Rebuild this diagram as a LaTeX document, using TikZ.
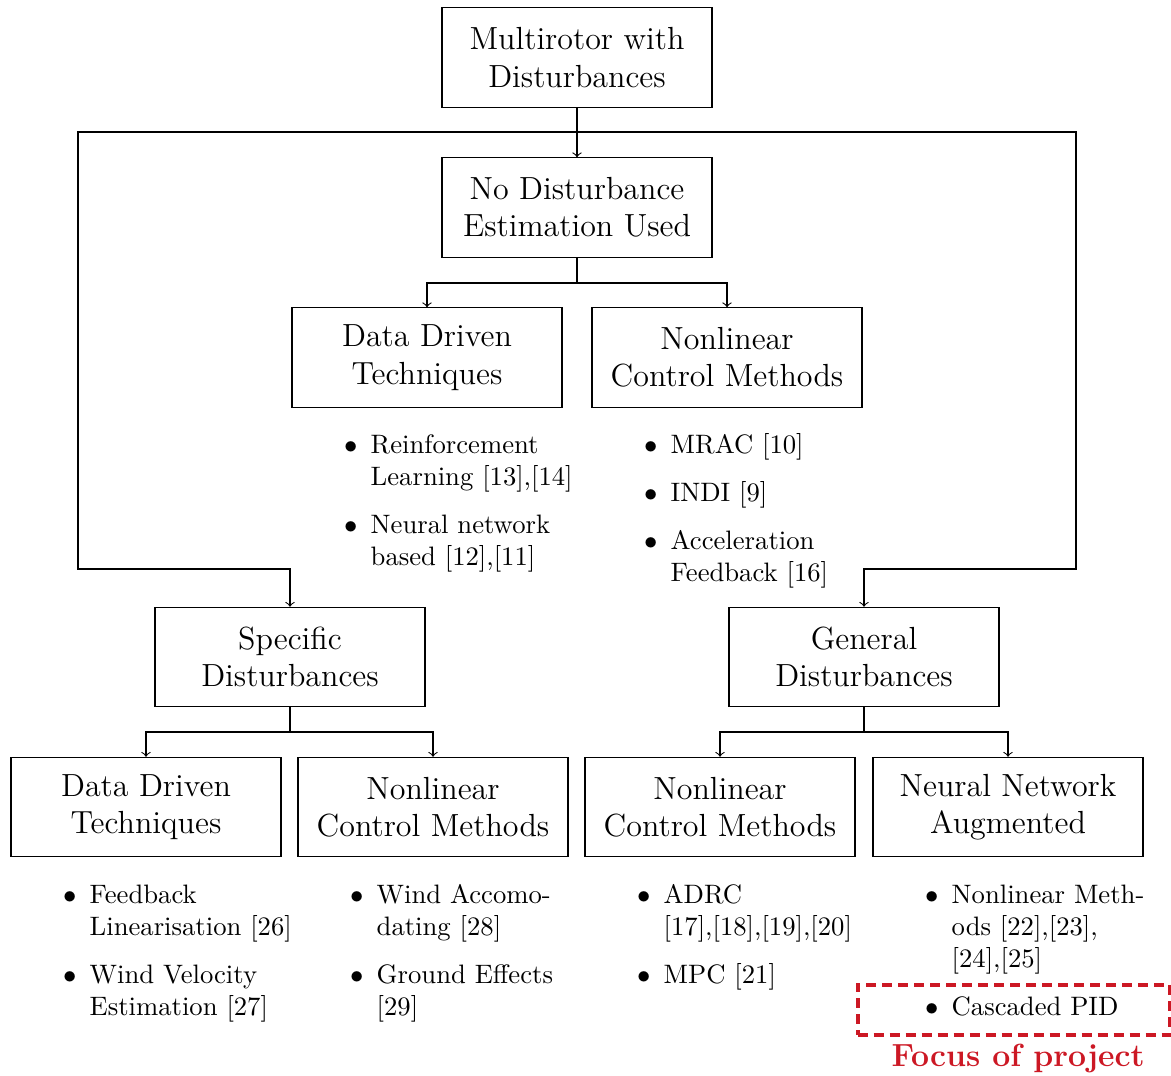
\documentclass[tikz,border=0pt]{standalone}
\usetikzlibrary{arrows}
\definecolor{focusred}{RGB}{204,24,36}
\newcommand{\blist}[1]{\begin{tabular}[t]{@{}c@{\hspace{5pt}}l@{}}#1\end{tabular}}
\newcommand{\bi}{$\bullet$}
\begin{document}
\begin{tikzpicture}[x=0.375pt,y=-0.375pt,
  box/.style={draw, minimum width=101.25pt, minimum height=37.3pt, inner sep=0pt,
    align=center, font=\large},
  items/.style={anchor=base west, inner sep=0pt},
  link/.style={->, >=to},
  every path/.style={line width=0.4pt}]
\useasboundingbox (0,0) rectangle (1171,1075);

% category boxes
\node[box] (A) at (577,57.5)  {Multirotor with\\Disturbances};
\node[box] (B) at (577,207.5) {No Disturbance\\Estimation Used};
\node[box] (C) at (427,357.5) {Data Driven\\Techniques};
\node[box] (D) at (727,357.5) {Nonlinear\\Control Methods};
\node[box] (E) at (290,657)   {Specific\\Disturbances};
\node[box] (F) at (864,657)   {General\\Disturbances};
\node[box] (G) at (146,807)   {Data Driven\\Techniques};
\node[box] (H) at (433,807)   {Nonlinear\\Control Methods};
\node[box] (I) at (720,807)   {Nonlinear\\Control Methods};
\node[box] (J) at (1008,807)  {Neural Network\\Augmented};

% branching points
\coordinate (j1) at (577,132);
\coordinate (lc) at (78,569);
\coordinate (rc) at (1076,569);
\coordinate (j2) at (577,283);
\coordinate (j3) at (290,732);
\coordinate (j4) at (864,732);

% connectors
\draw[link] (A.south) -- (B.north);
\draw[link] (j1) -| (lc) -| (E.north);
\draw[link] (j1) -| (rc) -| (F.north);
\draw (B.south) -- (j2);
\draw[link] (j2) -| (C.north);
\draw[link] (j2) -| (D.north);
\draw (E.south) -- (j3);
\draw[link] (j3) -| (G.north);
\draw[link] (j3) -| (H.north);
\draw (F.south) -- (j4);
\draw[link] (j4) -| (I.north);
\draw[link] (j4) -| (J.north);

% method lists
\node[items] (Cl) at (343.5,453) {\blist{
  \bi & Reinforcement\\ & Learning [13],[14]\\[6pt]
  \bi & Neural network\\ & based [12],[11]}};
\node[items] (Dl) at (643.5,453) {\blist{
  \bi & MRAC [10]\\[6pt]
  \bi & INDI [9]\\[6pt]
  \bi & Acceleration\\ & Feedback [16]}};
\node[items] (Gl) at (62.5,903) {\blist{
  \bi & Feedback\\ & Linearisation [26]\\[6pt]
  \bi & Wind Velocity\\ & Estimation [27]}};
\node[items] (Hl) at (349.5,903) {\blist{
  \bi & Wind Accomo-\\ & dating [28]\\[6pt]
  \bi & Ground Effects\\ & [29]}};
\node[items] (Il) at (636.5,903) {\blist{
  \bi & ADRC\\ & [17],[18],[19],[20]\\[6pt]
  \bi & MPC [21]}};
\node[items] (Jl) at (924.5,903) {\blist{
  \bi & Nonlinear Meth-\\ & ods [22],[23],\\ & [24],[25]\\[6pt]
  \bi & Cascaded PID}};

% highlighted item
\node[draw=focusred, line width=1.5pt, dash pattern=on 3.75pt off 2.25pt,
  minimum width=117pt, minimum height=18.9pt, inner sep=0pt] (focus) at (1013.5,1009.75) {};
\node[anchor=base, inner sep=0pt, text=focusred, font=\large\bfseries] (focuslabel)
  at (1018,1066) {Focus of project};
\end{tikzpicture}
\end{document}
